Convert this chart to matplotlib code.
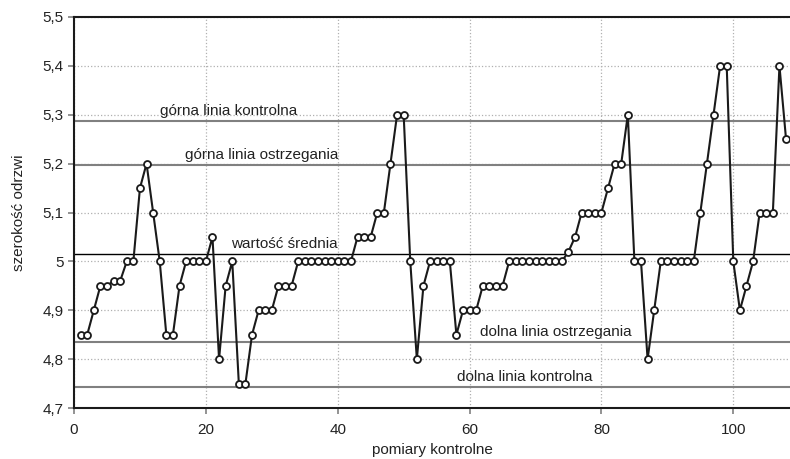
import matplotlib.pyplot as plt
from matplotlib.ticker import FuncFormatter

plt.rcParams['font.family'] = ['Liberation Sans', 'DejaVu Sans']

# measurements 1..108
pomiary = list(range(1, 109))
szerokosc = [
    4.85, 4.85, 4.90, 4.95, 4.95, 4.96, 4.96, 5.00, 5.00, 5.15,
    5.20, 5.10, 5.00, 4.85, 4.85, 4.95, 5.00, 5.00, 5.00, 5.00,
    5.05, 4.80, 4.95, 5.00, 4.75, 4.75, 4.85, 4.90, 4.90, 4.90,
    4.95, 4.95, 4.95, 5.00, 5.00, 5.00, 5.00, 5.00, 5.00, 5.00,
    5.00, 5.00, 5.05, 5.05, 5.05, 5.10, 5.10, 5.20, 5.30, 5.30,
    5.00, 4.80, 4.95, 5.00, 5.00, 5.00, 5.00, 4.85, 4.90, 4.90,
    4.90, 4.95, 4.95, 4.95, 4.95, 5.00, 5.00, 5.00, 5.00, 5.00,
    5.00, 5.00, 5.00, 5.00, 5.02, 5.05, 5.10, 5.10, 5.10, 5.10,
    5.15, 5.20, 5.20, 5.30, 5.00, 5.00, 4.80, 4.90, 5.00, 5.00,
    5.00, 5.00, 5.00, 5.00, 5.10, 5.20, 5.30, 5.40, 5.40, 5.00,
    4.90, 4.95, 5.00, 5.10, 5.10, 5.10, 5.40, 5.25,
]

linie_nazwy = ['górna linia kontrolna', 'górna linia ostrzegania', 'wartość średnia',
               'dolna linia ostrzegania', 'dolna linia kontrolna']
linie_wartosci = [5.288, 5.197, 5.016, 4.835, 4.744]
napisy_x = [13.0, 16.8, 23.8, 61.6, 58.1]

fig = plt.figure(figsize=(7.9, 4.59), dpi=100)
ax = fig.add_axes([0.0937, 0.111, 0.9063, 0.852])

ax.grid(True, color='#b0b0b0', linestyle=':', linewidth=0.9)
ax.set_axisbelow(True)

for nazwa, val, tx in zip(linie_nazwy, linie_wartosci, napisy_x):
    if nazwa == 'wartość średnia':
        ax.axhline(val, color='black', linewidth=1.0, zorder=2)
    else:
        ax.axhline(val, color='#808080', linewidth=1.5, zorder=2)
    ax.text(tx, val + 0.006, nazwa, fontsize=11, ha='left', va='bottom', color='#222222')

ax.plot(pomiary, szerokosc, color='#1a1a1a', linewidth=1.5, marker='o', markersize=5,
        markerfacecolor='white', markeredgecolor='#1a1a1a', markeredgewidth=1.3, zorder=3)

ax.set_xlim(0, 108.6)
ax.set_ylim(4.7, 5.5)
ax.set_xticks([0, 20, 40, 60, 80, 100])
ax.set_yticks([4.7, 4.8, 4.9, 5.0, 5.1, 5.2, 5.3, 5.4, 5.5])


def przecinek(v, pos):
    s = ('%.1f' % v).rstrip('0').rstrip('.')
    return s.replace('.', ',')


ax.yaxis.set_major_formatter(FuncFormatter(przecinek))
ax.tick_params(axis='both', labelsize=11, colors='#808080', labelcolor='#222222',
               length=4, width=1.2)
ax.tick_params(axis='x', pad=7)

for side in ['left', 'bottom', 'top']:
    ax.spines[side].set_linewidth(1.5)
    ax.spines[side].set_color('#1a1a1a')
ax.spines['right'].set_visible(False)

ax.set_xlabel('pomiary kontrolne', fontsize=11, color='#222222', labelpad=4)
ax.set_ylabel('szerokość odrzwi', fontsize=11, color='#222222', labelpad=12)

fig.savefig('out.png', dpi=100)
